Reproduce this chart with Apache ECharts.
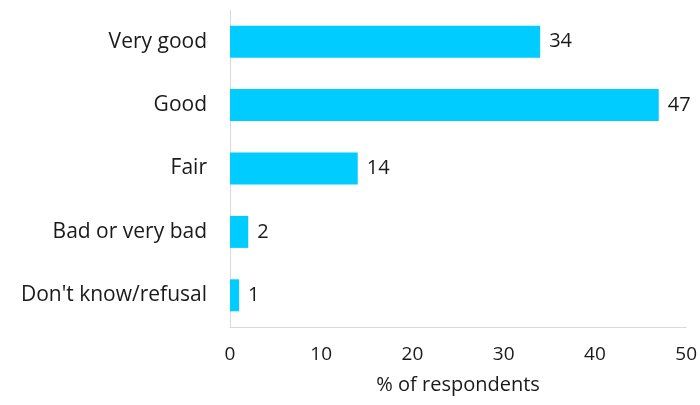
<!DOCTYPE html>
<html><head><meta charset="utf-8">
<script src="https://cdn.jsdelivr.net/npm/echarts@6/dist/echarts.min.js"></script>
<style>html,body{margin:0;padding:0;background:#fff}#c{width:700px;height:405px}</style>
</head><body><div id="c"></div>
<script>
const categories = ["Very good", "Good", "Fair", "Bad or very bad", "Don't know/refusal"];
const values = [34, 47, 14, 2, 1];
const xTicks = [0, 10, 20, 30, 40, 50];
const xName = "% of respondents";

const chart = echarts.init(document.getElementById('c'), null, {renderer: 'canvas'});
const FONT = "Open Sans";
chart.setOption({
  animation: false,
  grid: {left: 230, right: 13, top: 10, bottom: 78, containLabel: false},
  xAxis: {
    type: 'value', min: xTicks[0], max: xTicks[xTicks.length - 1], interval: 10,
    name: xName, nameLocation: 'middle', nameGap: 48,
    nameTextStyle: {fontFamily: FONT, fontSize: 20, color: '#1a1a1a'},
    axisLine: {show: true, lineStyle: {color: '#d9d9d9', width: 1}},
    axisTick: {show: false},
    splitLine: {show: false},
    axisLabel: {fontFamily: FONT, fontSize: 19, color: '#1a1a1a', margin: 18}
  },
  yAxis: {
    type: 'category', data: categories, inverse: true,
    axisLine: {show: true, lineStyle: {color: '#d9d9d9', width: 1}},
    axisTick: {show: false},
    axisLabel: {fontFamily: FONT, fontSize: 21, color: '#1a1a1a', margin: 23}
  },
  series: [{
    type: 'bar', data: values, barWidth: 32,
    itemStyle: {color: '#00CCFF'},
    label: {show: true, position: 'right', distance: 9, fontFamily: FONT, fontSize: 20, color: '#1a1a1a'}
  }]
});
</script></body></html>
